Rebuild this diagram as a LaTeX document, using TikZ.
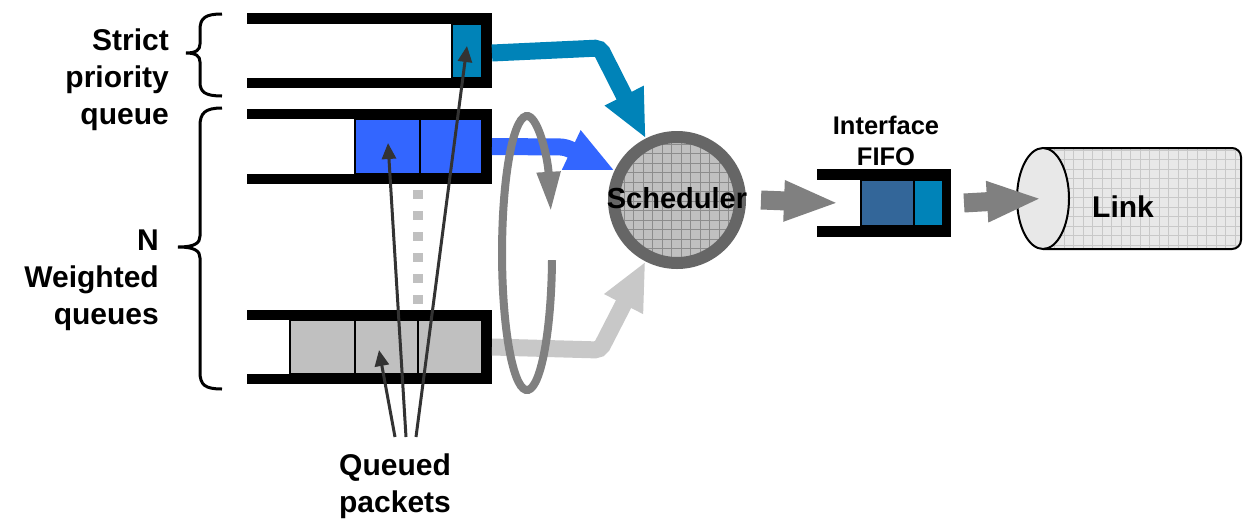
\documentclass[tikz,border=0pt]{standalone}
\usepackage{fontspec}
\setmainfont{Liberation Sans}
\usetikzlibrary{arrows.meta}
\definecolor{cyanq}{RGB}{0,131,184}
\definecolor{blueq}{RGB}{51,102,255}
\definecolor{grayq}{RGB}{192,192,192}
\definecolor{flowgray}{RGB}{200,200,200}
\definecolor{midgray}{RGB}{128,128,128}
\definecolor{ringgray}{RGB}{102,102,102}
\definecolor{fifoblue}{RGB}{51,102,153}
\definecolor{ptrc}{RGB}{51,51,51}
\definecolor{schedfill}{RGB}{192,192,192}
\definecolor{schedgrid}{RGB}{140,140,140}
\definecolor{linkfill}{RGB}{232,232,232}
\definecolor{linkgrid}{RGB}{200,200,200}
\begin{document}
\begin{tikzpicture}[x=1pt,y=-1pt,
  bar/.style={fill=black},
  pkt/.style={draw=black,line width=1.5pt},
  flow/.style={line width=17pt,rounded corners=5pt,-{Triangle[length=48pt,width=40pt]}},
  bigarrow/.style={midgray,line width=19pt,-{Triangle[length=55pt,width=37pt]}},
  ptr/.style={ptrc,line width=3pt,-{Triangle[length=16pt,width=14pt]}},
  lbl/.style={font=\bfseries\fontsize{30}{37}\selectfont,inner sep=0pt},
  box/.style={inner sep=0pt,outer sep=0pt,draw=none}]
\useasboundingbox (0,0) rectangle (1243,520);
\fill[white] (0,0) rectangle (1243,520);

% dotted separator between weighted queues
\draw[grayq,line width=10pt,dash pattern=on 9pt off 12pt] (418,190) -- (418,310);

% strict priority queue
\node[box,minimum width=245pt,minimum height=75pt] (q1) at (369.5,50.5) {};
\fill[bar] (247,13) rectangle (492,24);
\fill[bar] (247,78) rectangle (492,88);
\fill[bar] (482,13) rectangle (492,88);
\draw[pkt,fill=cyanq] (452,24) rectangle (482,78);
\coordinate (p1) at (467,46);

% weighted queue 1
\node[box,minimum width=245pt,minimum height=75pt] (q2) at (369.5,146.5) {};
\fill[bar] (247,109) rectangle (492,119);
\fill[bar] (247,174) rectangle (492,184);
\fill[bar] (482,109) rectangle (492,184);
\draw[pkt,fill=blueq] (355,119) rectangle (420,174);
\draw[pkt,fill=blueq] (420,119) rectangle (482,174);
\coordinate (p2) at (388,143);

% weighted queue N
\node[box,minimum width=245pt,minimum height=74pt] (q3) at (369.5,347) {};
\fill[bar] (247,310) rectangle (492,320);
\fill[bar] (247,374) rectangle (492,384);
\fill[bar] (482,310) rectangle (492,384);
\draw[pkt,fill=grayq] (290,320) rectangle (355,374);
\draw[pkt,fill=grayq] (355,320) rectangle (418,374);
\draw[pkt,fill=grayq] (418,320) rectangle (482,374);
\coordinate (p3) at (379,350);

% scheduler
\begin{scope}
  \clip (677,200) circle[radius=63];
  \fill[schedfill] (600,120) rectangle (760,280);
  \foreach \i in {0,...,17} {
    \draw[schedgrid,line width=0.7pt] (605+9.5*\i,125) -- (605+9.5*\i,275);
    \draw[schedgrid,line width=0.7pt] (605,125+9.5*\i) -- (755,125+9.5*\i);
  }
\end{scope}
\node[circle,draw=ringgray,line width=12pt,minimum size=126pt,inner sep=0pt] (sched) at (677,200) {};
\node[font=\bfseries\fontsize{29}{34}\selectfont,inner sep=0pt] (schedlbl) at (677,198) {Scheduler};

% flows into scheduler
\draw[flow,cyanq] ([yshift=-2.5pt]q1.east) -- (600,48) -- (sched);
\draw[flow,blueq] (q2.east) -- (565,147) -- (sched);
\draw[flow,flowgray] (q3.east) -- (600,350) -- (sched);

% round robin
\draw[midgray,line width=8pt,-{Triangle[length=40pt,width=22pt]}]
  (552,260.2) arc[start angle=3,end angle=342.5,x radius=25,y radius=137];

% interface FIFO
\node[box,minimum width=134pt,minimum height=68pt] (fifo) at (884,203) {};
\fill[bar] (817,169) rectangle (951,180);
\fill[bar] (817,226) rectangle (951,237);
\fill[bar] (943,169) rectangle (951,237);
\draw[pkt,fill=fifoblue] (861,180) rectangle (914,226);
\draw[pkt,fill=cyanq] (914,180) rectangle (943,226);
\node[font=\bfseries\fontsize{25.5}{31}\selectfont,inner sep=0pt,align=center,anchor=north] (fifolbl) at (886,116) {Interface\\FIFO};

% link
\node[box,minimum width=227pt,minimum height=101pt] (link) at (1129.5,198.5) {};
\begin{scope}
  \clip (1043,148) -- (1232,148) arc[start angle=-90,end angle=0,radius=9] -- (1241,240) arc[start angle=0,end angle=90,radius=9] -- (1043,249) -- cycle;
  \fill[linkfill] (1040,140) rectangle (1243,255);
  \foreach \i in {0,...,21} {
    \draw[linkgrid,line width=0.7pt] (1045+9.5*\i,145) -- (1045+9.5*\i,252);
  }
  \foreach \i in {0,...,11} {
    \draw[linkgrid,line width=0.7pt] (1040,150+9.5*\i) -- (1243,150+9.5*\i);
  }
\end{scope}
\draw[line width=2pt,rounded corners=9pt] (1043,148) -- (1241,148) -- (1241,249) -- (1043,249);
\draw[line width=2pt,fill=linkfill] (1043,198.5) ellipse[x radius=26,y radius=50.5];
\node[font=\bfseries\fontsize{30}{36}\selectfont,inner sep=0pt,anchor=base west] (linklbl) at (1092,217) {Link};

% big gray arrows
\draw[bigarrow] ([xshift=15pt]sched.east) -- ([xshift=22pt]fifo.west);
\draw[bigarrow] ([xshift=13pt]fifo.east) -- ([xshift=26pt]link.west);

% braces
\draw[line width=3pt] (222,14) .. controls (205,14) and (200,18) .. (200,30) -- (200,44)
  .. controls (200,50) and (196,53) .. (186,53) .. controls (196,53) and (200,56) .. (200,62)
  -- (200,82) .. controls (200,92) and (205,96) .. (222,96);
\draw[line width=3pt] (222,108) .. controls (205,108) and (200,113) .. (200,126) -- (200,236)
  .. controls (200,243) and (195,247) .. (178,247) .. controls (195,247) and (200,251) .. (200,258)
  -- (200,372) .. controls (200,385) and (205,389) .. (222,389);

% labels
\node[lbl,align=right,anchor=north east] (strictlbl) at (169,29) {Strict\\priority\\queue};
\node[lbl,align=right,anchor=north east] (wlbl) at (159,230) {N\\Weighted\\queues};
\node[lbl,align=center,anchor=north] (qplbl) at (395,454) {Queued\\packets};

% pointers to queued packets
\coordinate (s1) at (395,437);
\coordinate (s2) at (406,437);
\coordinate (s3) at (416,437);
\draw[ptr] (s1) -- (p3);
\draw[ptr] (s2) -- (p2);
\draw[ptr] (s3) -- (p1);
\end{tikzpicture}
\end{document}
